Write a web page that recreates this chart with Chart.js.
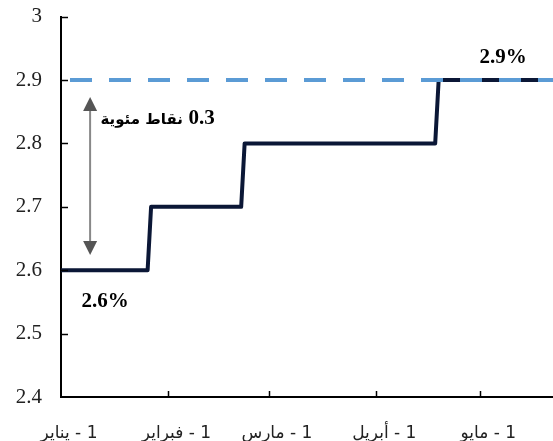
<!DOCTYPE html>
<html>
<head>
<meta charset="utf-8">
<script src="https://cdn.jsdelivr.net/npm/chart.js@4"></script>
<style>
  body { margin: 0; background: #fff; }
  canvas { display: block; }
</style>
</head>
<body>
<canvas id="myChart" width="553" height="441"></canvas>
<script>
// days since 1 January, month starts used as tick labels
const dayTicks = [0, 31, 60, 91, 121];
const monthLabels = ["1 - يناير", "1 - فبراير", "1 - مارس", "1 - أبريل", "1 - مايو"];

// policy rate path (steps)
const rateDays = [0, 25, 26, 52, 53, 108, 109, 141];
const rateValues = [2.6, 2.6, 2.7, 2.7, 2.8, 2.8, 2.9, 2.9];

// dashed target level
const targetDays = [0, 142];
const targetValues = [2.9, 2.9];

const yTicks = [2.4, 2.5, 2.6, 2.7, 2.8, 2.9, 3];

const toPoints = (xs, ys) => xs.map((x, i) => ({ x: x, y: ys[i] }));

// tick marks point inwards, and the notes on the chart
const extras = {
  id: "extras",
  afterDatasetsDraw(chart) {
    const ctx = chart.ctx;
    const x = chart.scales.x;
    const y = chart.scales.y;
    const area = chart.chartArea;

    ctx.save();
    ctx.strokeStyle = "#000";
    ctx.lineWidth = 1.5;
    dayTicks.slice(1).forEach((d) => {
      const px = Math.round(x.getPixelForValue(d)) + 0.5;
      ctx.beginPath();
      ctx.moveTo(px, area.bottom);
      ctx.lineTo(px, area.bottom - 6);
      ctx.stroke();
    });
    yTicks.slice(1).forEach((v) => {
      const py = Math.round(y.getPixelForValue(v)) + 0.5;
      ctx.beginPath();
      ctx.moveTo(area.left, py);
      ctx.lineTo(area.left + 7, py);
      ctx.stroke();
    });

    // double arrow 0.3 pp
    const ax = x.getPixelForValue(8.4);
    const top = y.getPixelForValue(2.873);
    const bot = y.getPixelForValue(2.624);
    ctx.strokeStyle = "#888";
    ctx.fillStyle = "#555";
    ctx.lineWidth = 2;
    ctx.beginPath();
    ctx.moveTo(ax, top + 12);
    ctx.lineTo(ax, bot - 12);
    ctx.stroke();
    ctx.beginPath();
    ctx.moveTo(ax, top);
    ctx.lineTo(ax - 7, top + 14);
    ctx.lineTo(ax + 7, top + 14);
    ctx.closePath();
    ctx.fill();
    ctx.beginPath();
    ctx.moveTo(ax, bot);
    ctx.lineTo(ax - 7, bot - 14);
    ctx.lineTo(ax + 7, bot - 14);
    ctx.closePath();
    ctx.fill();

    ctx.fillStyle = "#000";
    ctx.textAlign = "center";
    ctx.textBaseline = "middle";
    ctx.font = 'bold 21px "Liberation Serif"';
    ctx.fillText("2.6%", x.getPixelForValue(12.7), y.getPixelForValue(2.55));
    ctx.fillText("2.9%", x.getPixelForValue(127.6), y.getPixelForValue(2.936));
    // "0.3 نقاط مئوية" written right to left
    const ny = y.getPixelForValue(2.839);
    const nx = x.getPixelForValue(44.4);
    ctx.textAlign = "right";
    ctx.fillText("0.3", nx, ny);
    ctx.direction = "rtl";
    ctx.font = 'bold 15px "DejaVu Sans"';
    ctx.textAlign = "right";
    ctx.fillText("نقاط مئوية", nx - 32, ny + 1);
    ctx.restore();
  }
};

const data = {
  datasets: [
    {
      label: "target",
      data: toPoints(targetDays, targetValues),
      borderColor: "#5b9bd5",
      borderWidth: 4,
      borderDash: [22, 17],
      borderDashOffset: 30,
      pointRadius: 0,
    },
    {
      label: "rate",
      data: toPoints(rateDays, rateValues),
      borderColor: "#0b1736",
      borderWidth: 4,
      borderJoinStyle: "round",
      borderCapStyle: "round",
      pointRadius: 0,
    },
  ],
};

const config = {
  type: "line",
  data: data,
  options: {
    responsive: false,
    animation: false,
    layout: { padding: { top: 4, right: 0, left: 0, bottom: 0 } },
    plugins: { legend: { display: false }, tooltip: { enabled: false } },
    scales: {
      x: {
        type: "linear",
        min: 0,
        max: 142,
        afterBuildTicks: (scale) => {
          scale.ticks = dayTicks.map((d) => ({ value: d }));
        },
        afterFit: (scale) => { scale.height = 44; },
        grid: { display: true, drawOnChartArea: false, drawTicks: true, tickLength: 22, color: "transparent" },
        border: { display: true, color: "#000", width: 2 },
        ticks: {
          autoSkip: false,
          maxRotation: 0,
          padding: 4,
          labelOffset: 8,
          color: "#222",
          font: { family: "DejaVu Sans", size: 17 },
          callback: (v) => "\u202B" + monthLabels[dayTicks.indexOf(v)] + "\u202C",
        },
      },
      y: {
        min: 2.4,
        max: 3,
        afterBuildTicks: (scale) => {
          scale.ticks = yTicks.map((v) => ({ value: v }));
        },
        afterFit: (scale) => { scale.width = 61; },
        grid: { display: true, drawOnChartArea: false, drawTicks: true, tickLength: 15, color: "transparent" },
        border: { display: true, color: "#000", width: 2 },
        ticks: {
          padding: 4,
          color: "#222",
          font: { family: "Liberation Serif", size: 21 },
          callback: (v) => String(Math.round(v * 10) / 10),
        },
      },
    },
  },
  plugins: [extras],
};

const myChart = new Chart(document.getElementById("myChart"), config);
</script>
</body>
</html>
